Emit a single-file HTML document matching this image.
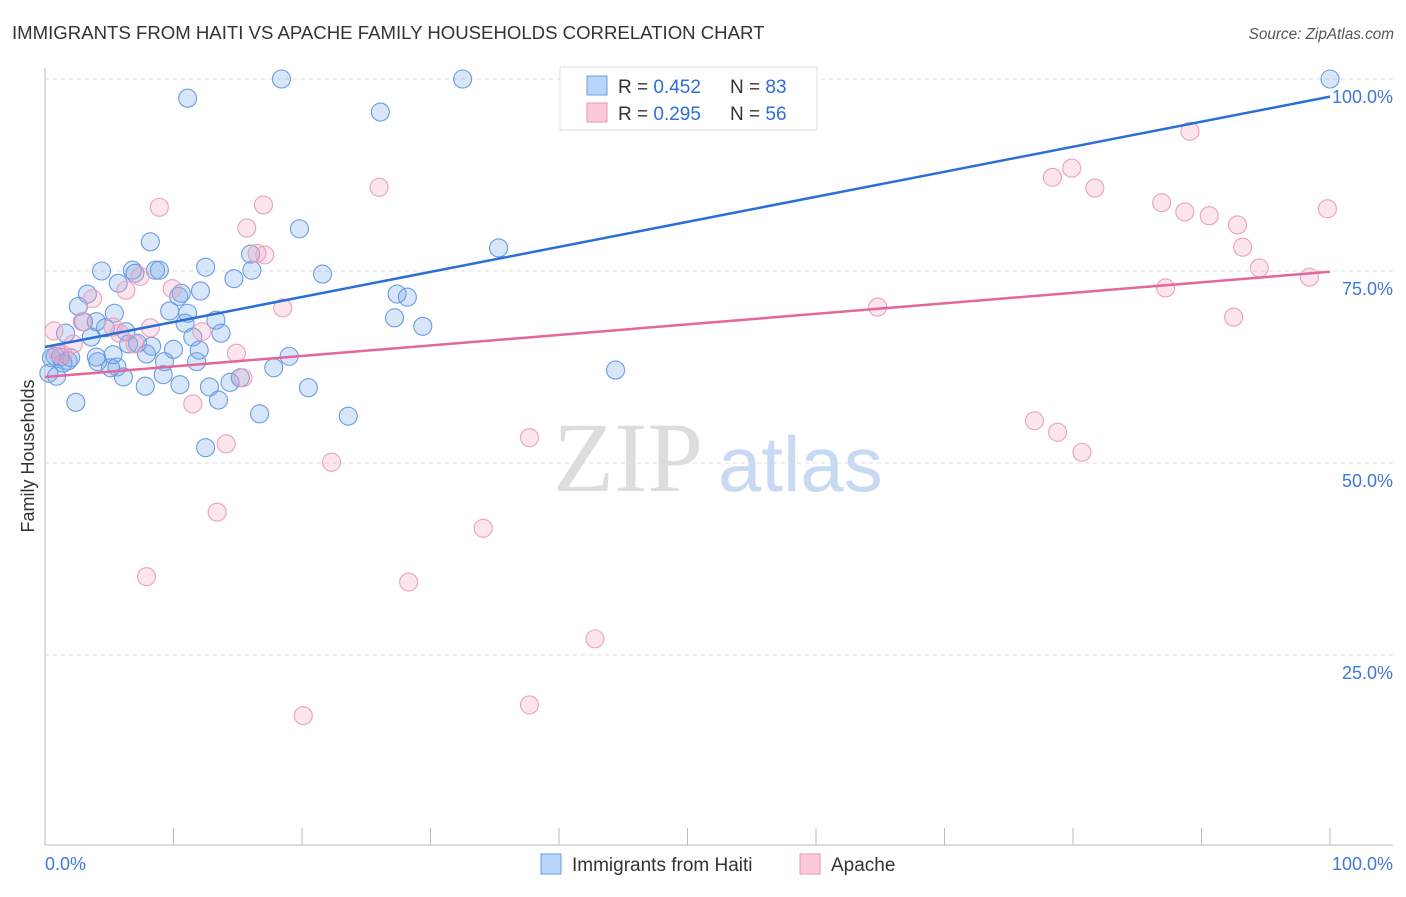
<!DOCTYPE html>
<html><head><meta charset="utf-8"><style>
body{margin:0;background:#fff;font-family:"Liberation Sans",sans-serif;}
svg text{font-family:"Liberation Sans",sans-serif;}
svg text.serif{font-family:"Liberation Serif",serif;}
</style></head><body>
<svg id="c" width="1406" height="892" xmlns="http://www.w3.org/2000/svg">
<text x="12" y="39" font-size="18.6" fill="#333">IMMIGRANTS FROM HAITI VS APACHE FAMILY HOUSEHOLDS CORRELATION CHART</text>
<text x="1394" y="39" font-size="15.3" fill="#555" font-style="italic" text-anchor="end">Source: ZipAtlas.com</text>
<g>
<text class="serif" x="553" y="491" font-size="100" fill="#ddd">ZIP</text>
<text x="718" y="491" font-size="78" fill="#c8daf3">atlas</text>
</g>
<g id="grid"></g>
<g id="axes"></g>
<g id="pts"></g>
<g id="trend"></g>
<text x="34" y="456" font-size="18" fill="#333" text-anchor="middle" transform="rotate(-90 34 456)">Family Households</text>
<g>
<rect x="560" y="67" width="257" height="63" fill="#fff" stroke="#ddd"/>
<rect x="587" y="76" width="20" height="19" fill="#b8d4f8" stroke="#6a9be0"/>
<rect x="587" y="103" width="20" height="19" fill="#fbc8d8" stroke="#e896b4"/>
<text x="618" y="93" font-size="19" fill="#333">R = <tspan fill="#2d6fd6">0.452</tspan></text>
<text x="730" y="93" font-size="19" fill="#333">N = <tspan fill="#2d6fd6">83</tspan></text>
<text x="618" y="120" font-size="19" fill="#333">R = <tspan fill="#2d6fd6">0.295</tspan></text>
<text x="730" y="120" font-size="19" fill="#333">N = <tspan fill="#2d6fd6">56</tspan></text>
</g>
<g>
<rect x="541" y="854" width="20" height="20" fill="#b8d4f8" stroke="#6a9be0"/>
<text x="572" y="871" font-size="19" fill="#333">Immigrants from Haiti</text>
<rect x="800" y="854" width="20" height="20" fill="#fbc8d8" stroke="#e896b4"/>
<text x="831" y="871" font-size="19" fill="#333">Apache</text>
</g>
</svg>
<script>
const yTicks=[100,75,50,25];
const yTickLabels=["100.0%","75.0%","50.0%","25.0%"];
const xTickVals=[0,10,20,30,40,50,60,70,80,90,100];
const haitiX=[18.4,32.5,100,11.1,26.1,8.2,19.8,4.4,6.8,8.6,8.9,12.5,16.0,16.1,14.7,21.6,7.0,5.7,35.3,3.3,2.6,10.4,12.1,10.6,27.4,28.2,5.4,9.7,11.1,3.0,4.0,13.3,4.7,6.3,10.9,1.6,3.6,13.7,11.5,27.2,29.4,6.5,8.3,7.2,12.0,10.0,0.8,0.5,1.2,1.8,4.0,5.3,7.9,19.0,5.6,6.1,9.2,4.1,5.1,11.8,17.8,44.4,0.9,0.3,7.8,10.5,12.8,14.4,15.2,20.5,13.5,2.4,16.7,23.6,12.5,9.3,2.0,1.4];
const haitiY=[100,100,100,97.5,95.7,78.8,80.5,75.0,75.1,75.1,75.1,75.5,77.2,75.1,74.0,74.6,74.7,73.4,78.0,72.0,70.4,71.7,72.4,72.1,72.0,71.6,69.5,69.8,69.5,68.4,68.4,68.6,67.6,67.1,68.2,66.9,66.4,66.9,66.4,68.9,67.8,65.5,65.2,65.6,64.7,64.8,63.9,63.7,63.8,63.3,63.8,64.1,64.2,63.9,62.5,61.2,61.5,63.2,62.4,63.2,62.4,62.1,61.3,61.7,60.0,60.2,59.9,60.5,61.1,59.8,58.2,57.9,56.4,56.1,52.0,63.2,63.7,63.0];
const apacheX=[89.1,8.9,17.0,26.0,78.4,79.9,81.7,86.9,88.7,90.6,92.8,93.2,99.8,15.7,16.5,17.1,7.4,94.5,98.4,6.3,9.9,3.7,87.2,18.5,64.8,92.5,0.7,2.9,5.3,8.2,12.2,5.8,7.0,2.2,14.9,1.4,15.4,11.5,77.0,78.8,80.7,37.7,14.1,22.3,13.4,34.1,7.9,28.3,42.8,20.1,37.7,1.0];
const apacheY=[93.2,83.3,83.6,85.9,87.2,88.4,85.8,83.9,82.7,82.2,81.0,78.1,83.1,80.6,77.3,77.1,74.3,75.4,74.2,72.5,72.7,71.4,72.8,70.2,70.3,69.0,67.2,68.4,67.7,67.6,67.1,66.9,65.5,65.5,64.3,64.1,61.1,57.7,55.5,54.0,51.4,53.3,52.5,50.1,43.6,41.5,35.2,34.5,27.1,17.1,18.5,64.3];
const haitiTrend=[65.1,97.7];
const apacheTrend=[61.2,74.9];
const NS="http://www.w3.org/2000/svg";
const X=v=>45+v*12.85, Y=v=>847-v*7.68;
function mk(tag,attrs,parent){const e=document.createElementNS(NS,tag);for(const k in attrs)e.setAttribute(k,attrs[k]);document.getElementById(parent).appendChild(e);return e;}
yTicks.forEach((t,i)=>{
 const l=mk('line',{x1:45,x2:1393,y1:Y(t),y2:Y(t),stroke:'#ddd','stroke-dasharray':'4 4'},'grid');
 
 
 const tx=mk('text',{x:1393,y:Y(t)+24,'font-size':18,fill:'#3f78d8','text-anchor':'end'},'grid');
 tx.textContent=yTickLabels[i];
 
 
});
const ax=mk('line',{x1:45,x2:1393,y1:845,y2:845,stroke:'#bbb'},'axes');


const ay=mk('line',{x1:45,x2:45,y1:68,y2:845,stroke:'#bbb'},'axes');


xTickVals.forEach(v=>{
 const t=mk('line',{x1:X(v),x2:X(v),y1:828,y2:845,stroke:'#bbb'},'axes');
 
 
});
const xl0=mk('text',{x:45,y:870,'font-size':18,fill:'#3f78d8'},'axes');xl0.textContent='0.0%';


const xl1=mk('text',{x:1393,y:870,'font-size':18,fill:'#3f78d8','text-anchor':'end'},'axes');xl1.textContent='100.0%';


haitiX.forEach((v,i)=>{
 const c=mk('circle',{cx:X(v),cy:Y(haitiY[i]),r:9,fill:'rgba(110,165,235,0.28)',stroke:'#6a9be3','stroke-width':1.1},'pts');
 
 
});
apacheX.forEach((v,i)=>{
 const c=mk('circle',{cx:X(v),cy:Y(apacheY[i]),r:9,fill:'rgba(245,160,190,0.28)',stroke:'#eca0bb','stroke-width':1.1},'pts');
 
 
});
const tb=mk('line',{x1:X(0),y1:Y(haitiTrend[0]),x2:X(100),y2:Y(haitiTrend[1]),stroke:'#2a6fd6','stroke-width':2.5},'trend');


const tp=mk('line',{x1:X(0),y1:Y(apacheTrend[0]),x2:X(100),y2:Y(apacheTrend[1]),stroke:'#e4669a','stroke-width':2.5},'trend');


</script>
</body></html>
